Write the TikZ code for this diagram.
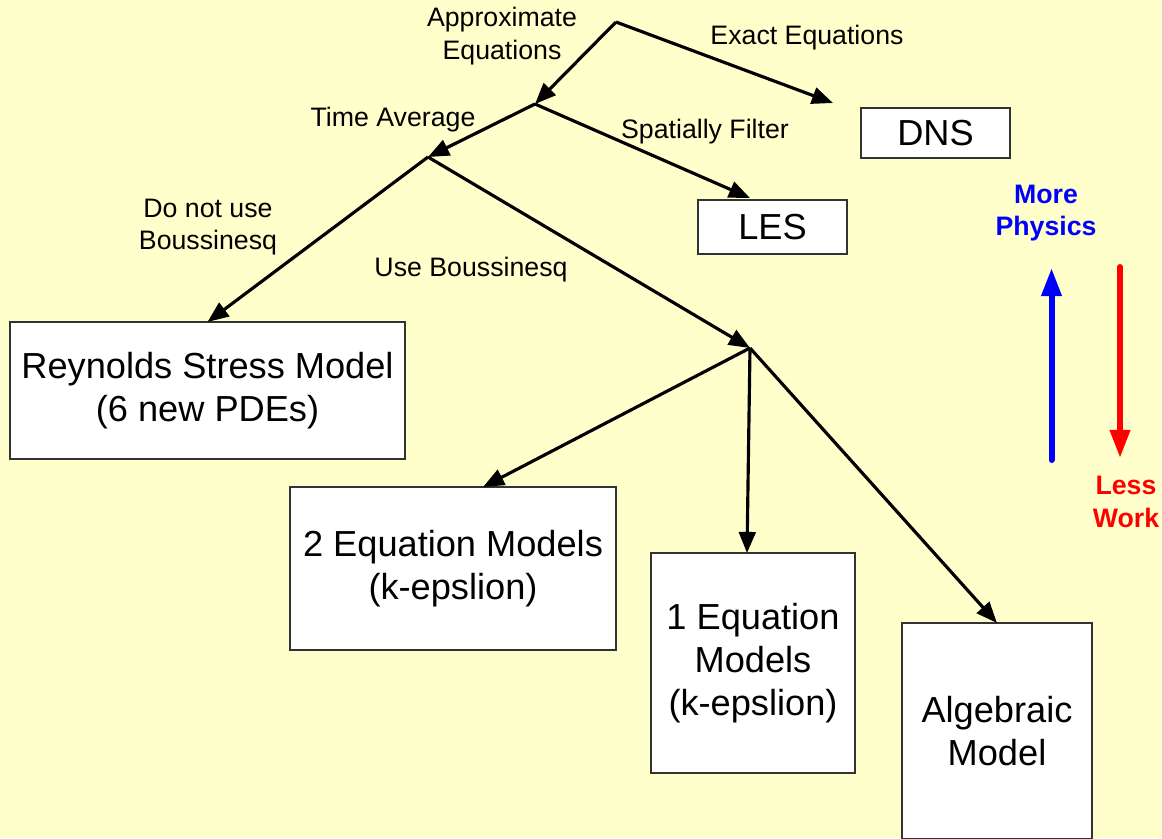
\documentclass[tikz,border=0pt]{standalone}
\usepackage{fontspec}
\setmainfont{Liberation Sans}
\usepackage{xcolor}
\usepackage{tikz}
\usetikzlibrary{arrows.meta}

\definecolor{paper}{HTML}{FFFFCC}

\begin{document}
\begin{tikzpicture}[
  box/.style={draw=black!80, fill=white, line width=0.6pt, outer sep=0pt, inner sep=0pt, align=center, font=\fontsize{20.6}{24.3}\selectfont},
  lbl/.style={align=center, inner sep=0pt, font=\fontsize{15.2}{18.6}\selectfont},
  arr/.style={-{Triangle[length=12pt,width=9.5pt]}, line width=1.8pt},
  bigarr/.style={-{Triangle[length=16pt,width=11pt]}, line width=3.4pt, line cap=round}
]
\fill[paper] (0,0) rectangle (23.24,-16.76);
\useasboundingbox (0,0) rectangle (23.24,-16.76);

% branch points
\coordinate (s1) at (12.32,-0.44);
\coordinate (s2) at (10.70,-2.08);
\coordinate (s3) at (8.56,-3.14);
\coordinate (s4) at (15.00,-6.96);
\coordinate (dnsend) at (16.66,-2.06);
\coordinate (lesend) at (15.00,-3.96);

% boxes
\node [box, minimum width=2.98cm, minimum height=1.0cm] (dns) at (18.71,-2.66) {DNS};
\node [box, minimum width=2.98cm, minimum height=1.08cm] (les) at (15.45,-4.54) {LES};
\node [box, minimum width=7.9cm, minimum height=2.74cm] (rsm) at (4.15,-7.81) {Reynolds Stress Model\\(6 new PDEs)};
\node [box, minimum width=6.52cm, minimum height=3.26cm] (eq2) at (9.06,-11.37) {2 Equation Models\\(k-epslion)};
\node [box, minimum width=4.08cm, minimum height=4.4cm] (eq1) at (15.06,-13.26) {1 Equation\\Models\\(k-epslion)};
\node [box, minimum width=3.8cm, minimum height=4.32cm] (alg) at (19.94,-14.62) {Algebraic\\Model};

% labels
\node [lbl] (approx) at (10.04,-0.72) {Approximate\\Equations};
\node [lbl] (exact) at (16.14,-0.76) {Exact Equations};
\node [lbl] (tavg) at (7.86,-2.40) {Time Average};
\node [lbl] (sfilt) at (14.10,-2.64) {Spatially Filter};
\node [lbl] (nobous) at (4.16,-4.54) {Do not use\\Boussinesq};
\node [lbl] (bous) at (9.42,-5.40) {Use Boussinesq};
\node [lbl, font=\fontsize{15.2}{18.6}\selectfont\bfseries, text=blue] (more) at (20.92,-4.26) {More\\Physics};
\node [lbl, font=\fontsize{15.2}{18.6}\selectfont\bfseries, text=red] (less) at (22.52,-10.04) {Less\\Work};

\coordinate (upbot) at (21.03,-9.20);
\coordinate (uptop) at (21.03,-5.36);
\coordinate (dntop) at (22.40,-5.34);
\coordinate (dnbot) at (22.40,-9.16);

% tree
\draw [arr] (s1) -- (s2);
\draw [arr] (s1) -- (dnsend);
\draw [arr] (s2) -- (s3);
\draw [arr] (s2) -- (lesend);
\draw [arr] (s3) -- (rsm.north);
\draw [arr] (s3) -- (s4);
\draw [arr] (s4) -- ([xshift=0.6cm]eq2.north);
\draw [arr] (s4) -- ([xshift=-0.12cm]eq1.north);
\draw [arr] (s4) -- (alg.north);

% side arrows
\draw [bigarr, blue] (upbot) -- (uptop);
\draw [bigarr, red] (dntop) -- (dnbot);
\end{tikzpicture}
\end{document}
